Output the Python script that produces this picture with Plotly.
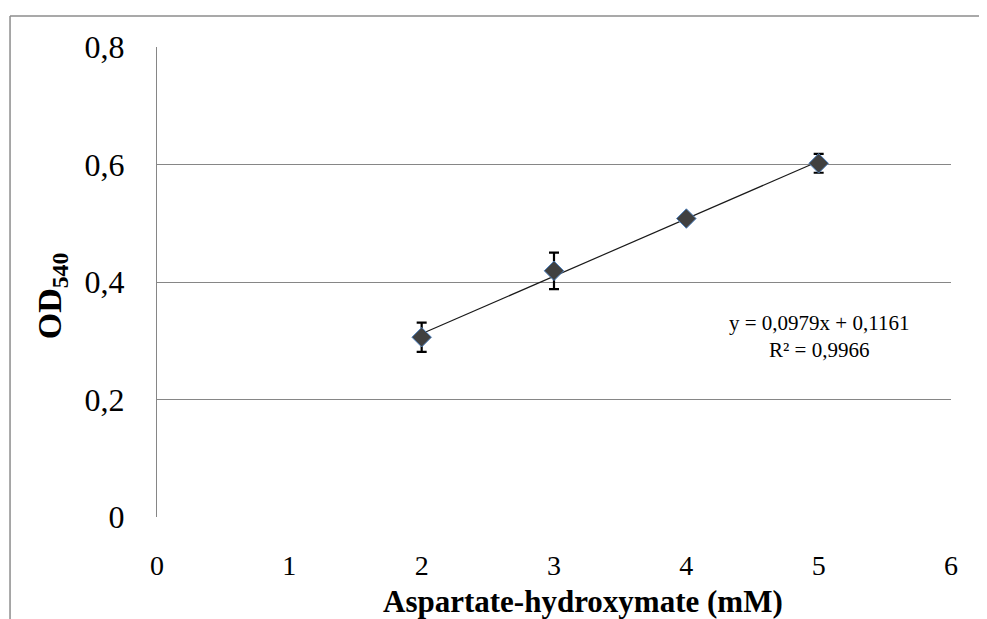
import plotly.graph_objects as go

x_vals = [2, 3, 4, 5]
od_vals = [0.306, 0.419, 0.508, 0.602]
err_vals = [0.025, 0.031, 0.006, 0.016]
slope = 0.0979
intercept = 0.1161
y_tickvals = [0, 0.2, 0.4, 0.6, 0.8]
y_ticktext = ["0", "0,2", "0,4", "0,6", "0,8"]
x_tickvals = [0, 1, 2, 3, 4, 5, 6]
x_ticktext = ["0", "1", "2", "3", "4", "5", "6"]

fit_x = [min(x_vals), max(x_vals)]
fit_y = [slope * v + intercept for v in fit_x]

serif = "Liberation Serif, Times New Roman, serif"

fig = go.Figure()
fig.add_trace(go.Scatter(x=fit_x, y=fit_y, mode="lines",
                         line=dict(color="#1a1a1a", width=1.2),
                         showlegend=False, hoverinfo="skip"))
fig.add_trace(go.Scatter(x=x_vals, y=od_vals, mode="markers",
                         marker=dict(symbol="diamond", size=15, color="#404040",
                                     line=dict(color="#4f81bd", width=1)),
                         error_y=dict(type="data", array=err_vals, visible=True,
                                      color="black", thickness=2.2, width=5),
                         showlegend=False))

fig.add_annotation(x=0.834, y=0.383, xref="paper", yref="paper",
                   text="y = 0,0979x + 0,1161<br>R² = 0,9966",
                   showarrow=False, align="center",
                   xanchor="center", yanchor="middle",
                   font=dict(family=serif, size=21, color="black"))

fig.add_annotation(x=0.5365, y=-0.180, xref="paper", yref="paper",
                   text="<b>Aspartate-hydroxymate (mM)</b>",
                   showarrow=False, xanchor="center", yanchor="middle",
                   font=dict(family=serif, size=31, color="black"))

fig.add_annotation(x=-0.132, y=0.47, xref="paper", yref="paper",
                   text="<b>OD<sub>540</sub></b>", textangle=-90,
                   showarrow=False, xanchor="center", yanchor="middle",
                   font=dict(family=serif, size=34, color="black"))

border = dict(color="#8c8c8c", width=1.5)
fig.add_shape(type="line", xref="paper", yref="paper", x0=-0.1851, x1=-0.1851,
              y0=-0.3, y1=1.066, line=border)
fig.add_shape(type="line", xref="paper", yref="paper", x0=-0.1851, x1=1.2,
              y0=1.066, y1=1.066, line=border)

fig.update_layout(
    width=987, height=619,
    margin=dict(l=149, r=44, t=39, b=110),
    paper_bgcolor="white", plot_bgcolor="white",
    font=dict(family=serif, size=22, color="black"),
    xaxis=dict(range=[0, 6], tickvals=x_tickvals, ticktext=x_ticktext,
               showgrid=False, zeroline=False, showline=False,
               ticks="outside", ticklen=23, tickcolor="rgba(0,0,0,0)",
               tickfont=dict(family=serif, size=28)),
    yaxis=dict(range=[0, 0.8], tickvals=y_tickvals, ticktext=y_ticktext,
               showgrid=True, gridcolor="#868686", gridwidth=1,
               zeroline=False, showline=True, linecolor="#868686", linewidth=1,
               ticks="outside", ticklen=25, tickcolor="rgba(0,0,0,0)",
               tickfont=dict(family=serif, size=32)),
)

fig.write_html("out.html")
